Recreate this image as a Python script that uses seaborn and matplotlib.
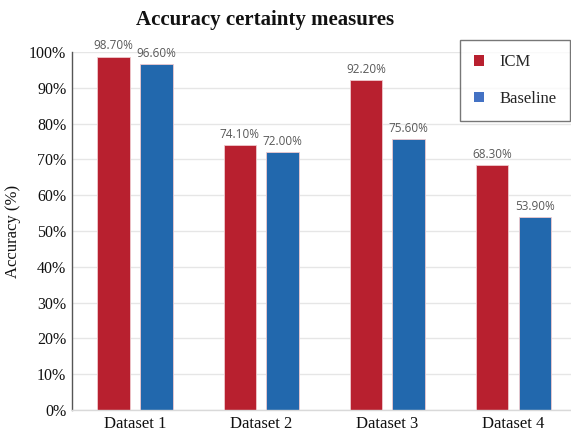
import matplotlib
matplotlib.use("Agg")
import matplotlib.pyplot as plt
import seaborn as sns
import pandas as pd
from matplotlib.patches import Patch
from matplotlib.font_manager import FontProperties

datasets = ["Dataset 1", "Dataset 2", "Dataset 3", "Dataset 4"]
icm = [98.7, 74.1, 92.2, 68.3]
baseline = [96.6, 72.0, 75.6, 53.9]
series = ["ICM", "Baseline"]
yticks = [0, 10, 20, 30, 40, 50, 60, 70, 80, 90, 100]

df = pd.DataFrame({
    "dataset": datasets * 2,
    "value": icm + baseline,
    "series": ["ICM"] * len(datasets) + ["Baseline"] * len(datasets),
})

sns.set_theme(style="white")
serif = ["Liberation Serif", "DejaVu Serif"]

fig = plt.figure(figsize=(5.71, 4.34), dpi=100)
ax = fig.add_axes([0.126, 0.0553, 0.874, 0.825])

bar_colors = {"ICM": "#B8202F", "Baseline": "#2268AD"}
sns.barplot(data=df, x="dataset", y="value", hue="series", hue_order=series,
            palette=bar_colors, saturation=1, width=0.676, gap=0.237, ax=ax,
            edgecolor="#EFC9CD", linewidth=0.6, legend=False, errorbar=None)

for cont in ax.containers:
    labels = [f"{b.get_height():.2f}%" for b in cont]
    ax.bar_label(cont, labels=labels, padding=3, fontsize=8.5, color="#595959",
                 family=["Open Sans", "DejaVu Sans"])

ax.set_ylim(0, 100)
ax.set_xlim(-0.5, 3.456)
ax.set_yticks(yticks)
ax.set_yticklabels([f"{t}%" for t in yticks], family=serif, fontsize=11.5, color="#111111")
ax.set_xticks(range(len(datasets)))
ax.set_xticklabels(datasets, family=serif, fontsize=12, color="#111111")
ax.tick_params(axis="both", length=0, pad=4)
ax.set_xlabel("")
ax.set_ylabel("Accuracy (%)", family=serif, fontsize=12, color="#111111", labelpad=6)

ax.yaxis.grid(True, color="#E6E6E6", linewidth=1.0)
ax.set_axisbelow(True)
for s in ["top", "right"]:
    ax.spines[s].set_visible(False)
ax.spines["left"].set_color("#555555")
ax.spines["left"].set_linewidth(1.0)
ax.spines["bottom"].set_color("#D9D9D9")
ax.spines["bottom"].set_linewidth(1.0)

fig.text(0.465, 0.953, "Accuracy certainty measures", ha="center", va="center",
         family=serif, fontsize=15, fontweight="bold", color="#111111")

handles = [Patch(facecolor="#B8202F", edgecolor="none"),
           Patch(facecolor="#4472C4", edgecolor="none")]
leg = fig.legend(handles, series, loc="upper right", bbox_to_anchor=(0.999, 0.908),
                 prop=FontProperties(family="Liberation Serif", size=12),
                 frameon=True, fancybox=False,
                 handlelength=0.6, handleheight=0.6, labelspacing=1.25,
                 borderpad=0.85, handletextpad=0.9, borderaxespad=0)
leg.get_frame().set_edgecolor("#555555")
leg.get_frame().set_linewidth(1.0)

fig.savefig("out.png", dpi=100)
